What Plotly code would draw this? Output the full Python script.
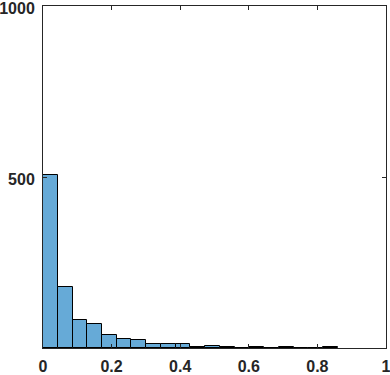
import plotly.graph_objects as go

# histogram counts, 20 bins from 0
bin_width = 0.043
counts = [507, 179, 82, 71, 39, 26, 23, 12, 12, 12,
          3, 6, 3, 0, 3, 0, 3, 0, 0, 3]
x_ticks = [0, 0.2, 0.4, 0.6, 0.8, 1]
x_labels = ["0", "0.2", "0.4", "0.6", "0.8", "1"]
y_ticks = [0, 500, 1000]
y_labels = ["", "500", "1000"]

centers = [bin_width * (i + 0.5) for i in range(len(counts))]

fig = go.Figure()
fig.add_trace(go.Bar(
    x=centers, y=counts, width=bin_width,
    marker=dict(color="rgb(102,170,215)", line=dict(color="black", width=1)),
))

axis_style = dict(
    showgrid=False, zeroline=False, automargin=False,
    showline=True, linecolor="#262626", linewidth=1, mirror="ticks",
    ticks="inside", ticklen=4, tickcolor="#262626",
    ticklabeloverflow="allow",
    tickfont=dict(family="Arial, Liberation Sans", size=16, color="#262626", weight="bold"),
)

fig.update_xaxes(range=[0, 1], tickvals=x_ticks, ticktext=x_labels,
                 ticklabelstandoff=4, **axis_style)
fig.update_yaxes(range=[0, 1000], tickvals=y_ticks, ticktext=y_labels,
                 ticklabelstandoff=4, ticklabelshift=2, **axis_style)

fig.update_layout(
    width=390, height=375,
    margin=dict(l=43, r=4, t=6, b=27),
    plot_bgcolor="white", paper_bgcolor="white",
    showlegend=False, bargap=0,
)

# drop the browser's default 8px body margin so the figure sits at 0,0
fig.write_html("out.html", config={"displayModeBar": False},
               post_script="document.body.style.margin='0';")
